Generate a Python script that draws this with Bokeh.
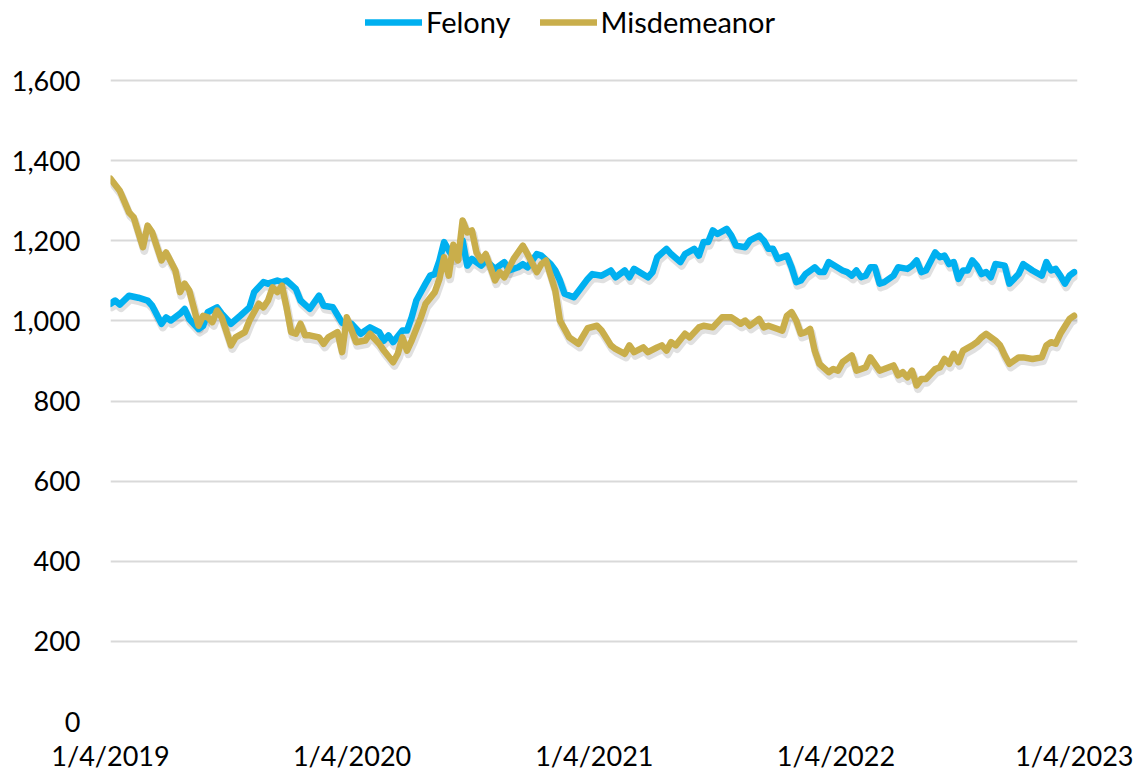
import numpy as np
import pandas as pd
from bokeh.plotting import figure
from bokeh.models import (FixedTicker, NumeralTickFormatter, Legend, LegendItem, Range1d)
from bokeh.embed import file_html
from bokeh.resources import INLINE

# ---------------- data ----------------
start_date = "2019-01-04"          # week 0 (weekly series)
end_date = "2023-01-04"
x_tick_dates = ["2019-01-04", "2020-01-04", "2021-01-04", "2022-01-04", "2023-01-04"]
x_tick_labels = ["1/4/2019", "1/4/2020", "1/4/2021", "1/4/2022", "1/4/2023"]
y_ticks = [0, 200, 400, 600, 800, 1000, 1200, 1400, 1600]
grid_values = [200, 400, 600, 800, 1000, 1200, 1400, 1600]

felony_week = [
    0, 1, 2, 4, 6, 8, 9, 11, 12, 13,
    15, 16, 17, 19, 20, 21, 23, 24, 26, 28,
    30, 31, 33, 34, 36, 37, 38, 40, 41, 43,
    45, 46, 48, 50, 51, 52, 54, 56, 58, 59,
    60, 61, 63, 64, 65, 66, 68, 69, 70, 71,
    72, 73, 74, 75, 76, 77, 78, 80, 81, 83,
    85, 86, 88, 89, 90, 92, 93, 95, 96, 97,
    98, 100, 101, 103, 104, 106, 108, 109, 111, 112,
    113, 116, 117, 118, 120, 121, 123, 124, 126, 127,
    128, 129, 130, 131, 133, 134, 135, 137, 138, 140,
    141, 142, 143, 144, 146, 147, 148, 149, 150, 152,
    153, 154, 155, 158, 159, 160, 161, 162, 163, 164,
    165, 166, 167, 169, 170, 172, 173, 174, 175, 176,
    178, 179, 180, 181, 182, 183, 184, 185, 186, 187,
    188, 189, 190, 191, 193, 194, 196, 197, 199, 201,
    202, 203, 204, 205, 206, 207, 208]
felony_value = [
    1043, 1051, 1041, 1063, 1058, 1051, 1038, 993, 1009, 1001,
    1018, 1030, 1005, 980, 988, 1022, 1034, 1018, 993, 1013,
    1034, 1072, 1097, 1093, 1101, 1097, 1101, 1080, 1051, 1030,
    1063, 1038, 1034, 995, 993, 993, 968, 984, 972, 951,
    964, 947, 976, 976, 1009, 1051, 1093, 1113, 1117, 1151,
    1197, 1176, 1159, 1167, 1201, 1138, 1155, 1138, 1151, 1130,
    1147, 1126, 1134, 1142, 1134, 1167, 1163, 1142, 1126, 1101,
    1068, 1059, 1074, 1105, 1117, 1113, 1126, 1109, 1126, 1109,
    1130, 1109, 1122, 1159, 1180, 1167, 1147, 1167, 1180, 1163,
    1197, 1197, 1226, 1217, 1230, 1213, 1188, 1184, 1201, 1213,
    1201, 1180, 1180, 1155, 1163, 1134, 1097, 1101, 1117, 1134,
    1122, 1122, 1147, 1126, 1122, 1113, 1126, 1109, 1113, 1134,
    1134, 1093, 1097, 1113, 1134, 1130, 1138, 1151, 1122, 1126,
    1171, 1159, 1163, 1142, 1147, 1105, 1126, 1126, 1151, 1138,
    1117, 1122, 1109, 1142, 1138, 1093, 1117, 1142, 1126, 1113,
    1147, 1126, 1130, 1113, 1093, 1113, 1122]

misd_week = [
    0, 2, 4, 5, 7, 8, 9, 11, 12, 14,
    15, 16, 17, 19, 20, 21, 22, 23, 24, 26,
    27, 29, 30, 32, 33, 34, 35, 36, 37, 38,
    39, 40, 41, 42, 43, 45, 46, 47, 49, 50,
    51, 53, 55, 56, 58, 59, 61, 62, 63, 64,
    65, 67, 68, 70, 71, 72, 73, 74, 75, 76,
    77, 78, 79, 80, 81, 83, 84, 85, 87, 89,
    90, 92, 93, 94, 96, 97, 99, 101, 103, 105,
    106, 108, 109, 111, 112, 113, 115, 116, 118, 119,
    120, 121, 122, 124, 125, 127, 128, 130, 132, 134,
    135, 136, 137, 138, 140, 141, 142, 144, 145, 146,
    147, 148, 149, 150, 151, 152, 153, 155, 156, 157,
    158, 160, 161, 163, 164, 166, 167, 169, 170, 171,
    172, 173, 174, 175, 176, 178, 179, 180, 181, 182,
    183, 184, 186, 187, 188, 189, 191, 192, 193, 194,
    196, 197, 199, 201, 202, 203, 204, 205, 207, 208]
misd_value = [
    1355, 1325, 1271, 1259, 1184, 1238, 1221, 1151, 1171, 1126,
    1072, 1093, 1076, 988, 1013, 1009, 997, 1026, 1009, 939,
    959, 972, 1001, 1043, 1034, 1051, 1084, 1072, 1088, 1034,
    972, 968, 993, 964, 964, 959, 943, 959, 972, 922,
    1009, 947, 951, 968, 943, 926, 897, 918, 959, 926,
    951, 1009, 1043, 1072, 1105, 1159, 1113, 1190, 1151, 1251,
    1221, 1226, 1171, 1151, 1167, 1101, 1122, 1109, 1155, 1188,
    1167, 1122, 1142, 1151, 1076, 1001, 959, 943, 982, 988,
    976, 939, 930, 918, 939, 922, 934, 922, 934, 939,
    926, 947, 939, 968, 959, 984, 988, 984, 1009, 1009,
    1001, 993, 1001, 988, 1005, 984, 988, 980, 976, 1013,
    1022, 1001, 968, 972, 980, 926, 893, 872, 880, 876,
    897, 914, 876, 884, 909, 876, 880, 889, 864, 872,
    859, 876, 839, 855, 855, 880, 884, 905, 893, 918,
    897, 926, 939, 947, 959, 968, 951, 939, 914, 893,
    909, 909, 905, 909, 939, 947, 943, 968, 1005, 1013]

# ---------------- styling ----------------
FONT = "Lato"
FS = "27px"
LEG_FS = "29px"
BLUE = "#00B0F0"
GOLD = "#C9AE4B"


def to_dates(weeks):
    return pd.Timestamp(start_date) + pd.to_timedelta(np.asarray(weeks) * 7, unit="D")


def ms(d):
    return pd.Timestamp(d).value / 1e6


fel_x = to_dates(felony_week)
mis_x = to_dates(misd_week)
fel_y = np.asarray(felony_value, dtype=float)
mis_y = np.asarray(misd_value, dtype=float)

# frame runs from the top of the page to the 0 line; room above 1,600 holds the legend
p = figure(width=1133, height=774, x_axis_type="datetime",
           x_range=Range1d(ms(start_date), ms(end_date)),
           y_range=Range1d(0, 1800),
           output_backend="svg", toolbar_location=None,
           min_border_left=110, min_border_right=56,
           min_border_top=0, min_border_bottom=53)
p.outline_line_color = None
p.background_fill_color = "white"
p.border_fill_color = "white"

# soft drop shadows (same data, nudged a few pixels down/right)
shadow_dx = pd.Timedelta(days=2)
for xs, ys in ((fel_x, fel_y), (mis_x, mis_y)):
    p.line(xs + shadow_dx, ys - 9, line_width=8, line_color="#000000",
           line_alpha=0.12, line_join="round", line_cap="round")

r_fel = p.line(fel_x, fel_y, line_width=6.5, line_color=BLUE,
               line_join="round", line_cap="round")
r_mis = p.line(mis_x, mis_y, line_width=6.5, line_color=GOLD,
               line_join="round", line_cap="round")

# axes
p.xaxis.ticker = FixedTicker(ticks=[ms(d) for d in x_tick_dates])
p.xaxis.major_label_overrides = {ms(d): t for d, t in zip(x_tick_dates, x_tick_labels)}
p.yaxis.ticker = FixedTicker(ticks=y_ticks)
p.yaxis.formatter = NumeralTickFormatter(format="0,0")
for ax in (p.xaxis, p.yaxis):
    ax.axis_line_color = None
    ax.major_tick_line_color = None
    ax.minor_tick_line_color = None
    ax.major_tick_out = 0
    ax.major_tick_in = 0
    ax.major_label_text_font = FONT
    ax.major_label_text_font_size = FS
    ax.major_label_text_color = "#000000"
p.yaxis.major_label_standoff = 30
p.xaxis.major_label_standoff = 17
p.xaxis.major_label_text_line_height = 0.7
p.xaxis.axis_label_standoff = 0

p.xgrid.visible = False
p.ygrid.ticker = FixedTicker(ticks=grid_values)
p.ygrid.grid_line_color = "#D9D9D9"
p.ygrid.grid_line_width = 2

legend = Legend(items=[LegendItem(label="Felony", renderers=[r_fel]),
                       LegendItem(label="Misdemeanor", renderers=[r_mis])],
                orientation="horizontal", location=(255, 682))
legend.label_text_font = FONT
legend.label_text_font_size = LEG_FS
legend.label_text_color = "#000000"
legend.label_standoff = 4
legend.label_height = 30
legend.glyph_width = 57
legend.glyph_height = 30
legend.spacing = 29
legend.padding = 0
legend.margin = 0
legend.border_line_color = None
legend.background_fill_alpha = 0
p.add_layout(legend, "center")

open("out.html", "w").write(file_html(p, INLINE))
